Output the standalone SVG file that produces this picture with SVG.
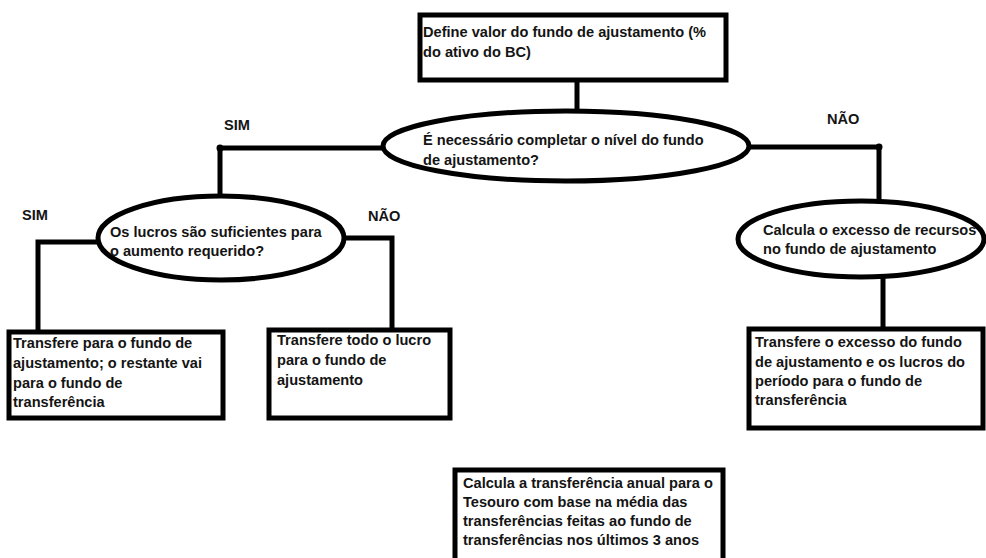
<svg xmlns="http://www.w3.org/2000/svg" width="986" height="558" viewBox="0 0 986 558">
<style>
.bg{fill:#fff}
.box{fill:#fff;stroke:#000;stroke-width:5}
.ell{fill:#fff;stroke:#000;stroke-width:5}
.con{fill:none;stroke:#000;stroke-width:5;stroke-linejoin:miter}
.dot{fill:#000}
text{font-family:"Liberation Sans",Arial,sans-serif;font-weight:bold;font-size:14.6px;fill:#141414}
</style>
<rect class="bg" x="0" y="0" width="986" height="558"/>
<g id="connectors">
<path class="con" d="M577,82 V111"/>
<path class="con" d="M383,148 H220 V196"/>
<circle class="dot" cx="220" cy="148" r="3.5"/>
<path class="con" d="M749,147 H879 V201"/>
<circle class="dot" cx="879" cy="147" r="3.5"/>
<path class="con" d="M98,242 H38 V331"/>
<path class="con" d="M344,238 H392 V329"/>
<path class="con" d="M883,276 V328"/>
</g>
<g id="labels">
<text x="224" y="130">SIM</text>
<text x="22" y="220">SIM</text>
<text x="368" y="221">NÃO</text>
<text x="827" y="124">NÃO</text>
</g>
<g id="n1">
<rect class="box" x="420" y="15" width="306" height="65"/>
<text x="423" y="37">Define valor do fundo de ajustamento (%</text>
<text x="423" y="57">do ativo do BC)</text>
</g>
<g id="n2">
<ellipse class="ell" cx="566" cy="146" rx="183" ry="35"/>
<text x="423" y="145">É necessário completar o nível do fundo</text>
<text x="423" y="165">de ajustamento?</text>
</g>
<g id="n3">
<ellipse class="ell" cx="221" cy="238" rx="123" ry="42"/>
<text x="110" y="237">Os lucros são suficientes para</text>
<text x="110" y="256">o aumento requerido?</text>
</g>
<g id="n4">
<ellipse class="ell" cx="861" cy="239" rx="123" ry="38"/>
<text x="763" y="235">Calcula o excesso de recursos</text>
<text x="763" y="254">no fundo de ajustamento</text>
</g>
<g id="n5">
<rect class="box" x="9" y="332" width="214" height="86"/>
<text x="13" y="348">Transfere para o fundo de</text>
<text x="13" y="368">ajustamento; o restante vai</text>
<text x="13" y="388">para o  fundo de</text>
<text x="13" y="407">transferência</text>
</g>
<g id="n6">
<rect class="box" x="269" y="330" width="181" height="88"/>
<text x="277" y="345">Transfere todo o lucro</text>
<text x="277" y="365">para o fundo de</text>
<text x="277" y="385">ajustamento</text>
</g>
<g id="n7">
<rect class="box" x="749" y="329" width="234" height="99"/>
<text x="755" y="347">Transfere o excesso do fundo</text>
<text x="755" y="367">de ajustamento e os lucros do</text>
<text x="755" y="386">período para o fundo de</text>
<text x="755" y="405">transferência</text>
</g>
<g id="n8">
<rect class="box" x="455" y="470" width="268" height="100"/>
<text x="463" y="488">Calcula a transferência anual para o</text>
<text x="463" y="507">Tesouro com base na média das</text>
<text x="463" y="526">transferências feitas ao fundo de</text>
<text x="463" y="545">transferências nos últimos 3 anos</text>
</g>
</svg>
